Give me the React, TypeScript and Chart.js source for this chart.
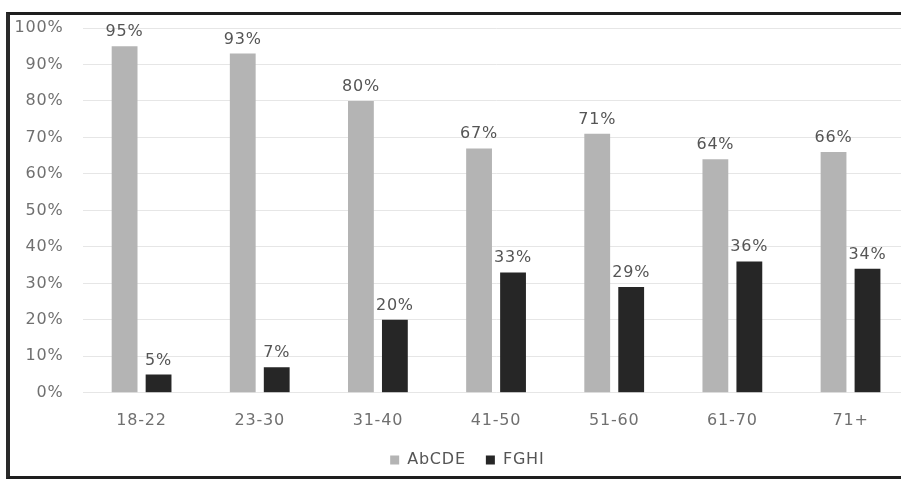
import { useEffect, useRef } from 'react';
import { Chart, registerables } from 'chart.js';

Chart.register(...registerables);

const categories = ['18-22', '23-30', '31-40', '41-50', '51-60', '61-70', '71+'];
const abcdeValues = [95, 93, 80, 67, 71, 64, 66];
const fghiValues = [5, 7, 20, 33, 29, 36, 34];
const seriesNames = ['AbCDE', 'FGHI'];
const yMin = 0;
const yMax = 100;
const yStep = 10;

const FONT_FAMILY = 'DejaVu Sans';
const TEXT_COLOR = '#707070';
const LETTER_SPACING = '0.8px';

const spacingPlugin = {
  id: 'spacing',
  beforeUpdate(chart: any) {
    chart.ctx.letterSpacing = LETTER_SPACING;
  },
  beforeDraw(chart: any) {
    chart.ctx.letterSpacing = LETTER_SPACING;
  },
  afterLayout(chart: any) {
    if (chart.legend) {
      chart.legend.left += 5;
      chart.legend.right += 5;
    }
  },
};

const valueLabels = {
  id: 'valueLabels',
  afterDatasetsDraw(chart: any) {
    const { ctx } = chart;
    ctx.save();
    ctx.font = `16px "${FONT_FAMILY}"`;
    ctx.fillStyle = '#555555';
    ctx.textAlign = 'center';
    ctx.textBaseline = 'alphabetic';
    chart.data.datasets.forEach((ds: any, i: number) => {
      const meta = chart.getDatasetMeta(i);
      meta.data.forEach((el: any, j: number) => {
        ctx.fillText(ds.data[j] + '%', el.x, el.y - 10);
      });
    });
    ctx.restore();
  },
};

export default function App() {
  const ref = useRef<HTMLCanvasElement>(null);

  useEffect(() => {
    const font = { family: FONT_FAMILY, size: 16 };
    const chart = new Chart(ref.current as HTMLCanvasElement, {
      type: 'bar',
      data: {
        labels: categories,
        datasets: [
          {
            label: seriesNames[0],
            data: abcdeValues,
            backgroundColor: '#b4b4b4',
            categoryPercentage: 0.575,
            barPercentage: 0.76,
          },
          {
            label: seriesNames[1],
            data: fghiValues,
            backgroundColor: '#262626',
            categoryPercentage: 0.575,
            barPercentage: 0.76,
          },
        ],
      },
      options: {
        animation: false,
        responsive: true,
        maintainAspectRatio: false,
        layout: { padding: { left: 5, right: 20.4, top: 13, bottom: 0 } },
        scales: {
          x: {
            grid: { display: false, drawTicks: false },
            border: { display: false },
            ticks: { font, color: TEXT_COLOR, padding: 18 },
            afterFit: (s: any) => {
              s.height = 39.2;
            },
          },
          y: {
            min: yMin,
            max: yMax,
            ticks: {
              stepSize: yStep,
              font,
              color: TEXT_COLOR,
              padding: 19,
              callback: (v: any) => v + '%',
            },
            grid: { color: '#e6e6e6', drawTicks: false },
            border: { display: false },
            afterFit: (s: any) => {
              s.width = 67.5;
              s.paddingTop = 0;
              s.paddingBottom = 0;
            },
          },
        },
        plugins: {
          legend: {
            position: 'bottom',
            labels: {
              boxWidth: 9,
              boxHeight: 9,
              padding: 20,
              font,
              color: '#555555',
            },
          },
          tooltip: { enabled: false },
        },
      },
      plugins: [spacingPlugin, valueLabels],
    } as any);
    return () => chart.destroy();
  }, []);

  return (
    <div
      style={{
        position: 'fixed',
        left: 0,
        top: 0,
        width: 1000,
        height: 479,
        overflow: 'hidden',
        background: '#ffffff',
      }}
    >
      <div style={{ position: 'absolute', left: 10, top: 15, width: 920, height: 463 }}>
        <canvas ref={ref} />
      </div>
      <div
        style={{
          position: 'absolute',
          left: 6,
          top: 12,
          width: 990,
          height: 461,
          borderTop: '3px solid #1e1e1e',
          borderLeft: '4px solid #2a2a2a',
          borderBottom: '3px solid #1e1e1e',
          pointerEvents: 'none',
        }}
      />
    </div>
  );
}
